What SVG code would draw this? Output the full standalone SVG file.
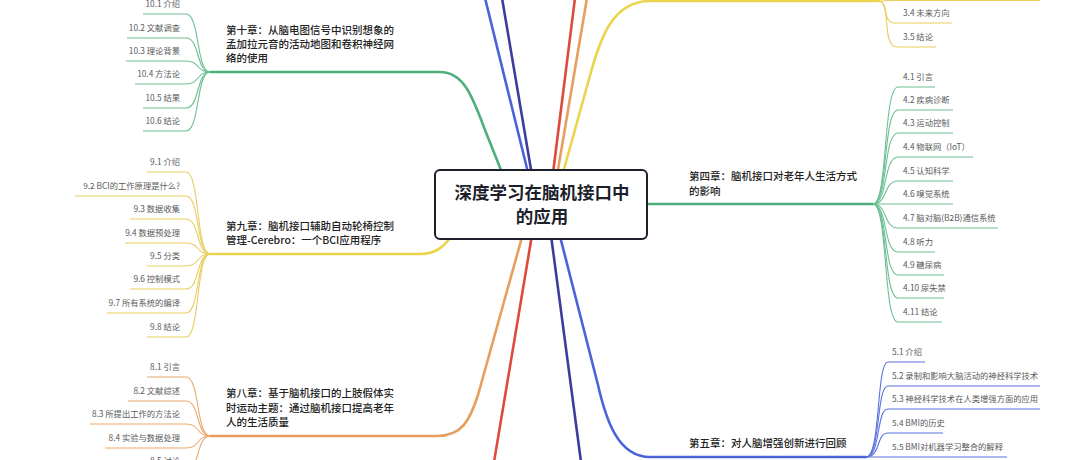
<svg xmlns="http://www.w3.org/2000/svg" width="1080" height="460" viewBox="0 0 1080 460">
<style>
text{font-family:"Noto Sans CJK SC","Noto Sans",sans-serif;}
.sub{font-size:8.3px;fill:#5a5a5a;}
.subl{font-size:8.3px;fill:#5a5a5a;text-anchor:end;}
.chap{font-size:10.5px;fill:#222;font-weight:500;}
.title{font-size:17.5px;fill:#1d1f2b;font-weight:700;text-anchor:middle;}
.main{fill:none;stroke-width:2.6;stroke-linecap:round;stroke-linejoin:round;}
.thin{fill:none;stroke-width:1.1;}
.g{stroke:#4daf7c;} .y{stroke:#ead44c;} .o{stroke:#e79e5e;} .r{stroke:#dc4b3c;} .i{stroke:#3f3d9c;} .b{stroke:#4a63d8;}
.gs{stroke:#6cbf93;} .ys{stroke:#e8cd5e;} .os{stroke:#eaa96e;} .bs{stroke:#5a72dc;}
</style>
<rect width="1080" height="460" fill="#fff"/>
<g id="connectors">
  <!-- main branches -->
  <path class="main b" d="M485,-2 L536,205"/>
  <path class="main i" d="M502,-2 L537,205"/>
  <path class="main r" d="M575,-2 L549,205"/>
  <path class="main o" d="M587,-2 L552,205"/>
  <path class="main y" d="M554,205 L591,72 C600,40 612,1 650,1 L878,1"/>
  <path class="main g" d="M600,204 L873,204"/>
  <path class="main g" d="M515,205 L487,135 C474,102 466,72 440,72 L210,72"/>
  <path class="main y" d="M480,205 L455,232 C445,245 438,254 420,254 L210,254"/>
  <path class="main o" d="M531,205 L478,395 C470,420 462,436 437,436 L210,436"/>
  <path class="main r" d="M537,205 L494,462"/>
  <path class="main i" d="M547,205 L581,462"/>
  <path class="main b" d="M552,205 L598,385 C606,420 618,457 650,457 L866,457"/>
  <!-- chapter 3 subs -->
  <path class="thin ys" d="M878,1 C886,1 884,0.5 893,0.5 L1040,0.5"/>
  <path class="thin ys" d="M878,1 C890,1 881,23 895,23 L952,23"/>
  <path class="thin ys" d="M878,1 C892,1 881,47 897,47 L936,47"/>
  <!-- chapter 4 subs -->
  <path class="thin gs" d="M873,204 C888,204 883,87 898,87 L935,87"/>
  <path class="thin gs" d="M873,204 C888,204 883,110 898,110 L953,110"/>
  <path class="thin gs" d="M873,204 C888,204 883,133 898,133 L953,133"/>
  <path class="thin gs" d="M873,204 C888,204 883,157 898,157 L973,157"/>
  <path class="thin gs" d="M873,204 C888,204 883,181 898,181 L953,181"/>
  <path class="thin gs" d="M873,204 C888,204 883,204 898,204 L953,204"/>
  <path class="thin gs" d="M873,204 C888,204 883,228 898,228 L998,228"/>
  <path class="thin gs" d="M873,204 C888,204 883,252 898,252 L935,252"/>
  <path class="thin gs" d="M873,204 C888,204 883,275 898,275 L944,275"/>
  <path class="thin gs" d="M873,204 C888,204 883,298 898,298 L944,298"/>
  <path class="thin gs" d="M873,204 C888,204 883,322 898,322 L942,322"/>
  <!-- chapter 5 subs -->
  <path class="thin bs" d="M866,457 C881,457 876,362 888,362 L925,362"/>
  <path class="thin bs" d="M866,457 C881,457 876,386 888,386 L1040,386"/>
  <path class="thin bs" d="M866,457 C881,457 876,409 888,409 L1040,409"/>
  <path class="thin bs" d="M866,457 C881,457 876,433 888,433 L943,433"/>
  <path class="thin bs" d="M866,457 L1007,457"/>
  <!-- chapter 10 subs -->
  <path class="thin gs" d="M210,72 C196,72 200,14 186,14 L143,14"/>
  <path class="thin gs" d="M210,72 C196,72 200,38 186,38 L127,38"/>
  <path class="thin gs" d="M210,72 C196,72 200,61 186,61 L126,61"/>
  <path class="thin gs" d="M210,72 C196,72 200,84 186,84 L135,84"/>
  <path class="thin gs" d="M210,72 C196,72 200,108 186,108 L143,108"/>
  <path class="thin gs" d="M210,72 C196,72 200,131 186,131 L143,131"/>
  <!-- chapter 9 subs -->
  <path class="thin ys" d="M210,254 C196,254 200,172 186,172 L147,172"/>
  <path class="thin ys" d="M210,254 C196,254 200,196 186,196 L75,196"/>
  <path class="thin ys" d="M210,254 C196,254 200,219 186,219 L130,219"/>
  <path class="thin ys" d="M210,254 C196,254 200,243 186,243 L125,243"/>
  <path class="thin ys" d="M210,254 C196,254 200,266 186,266 L147,266"/>
  <path class="thin ys" d="M210,254 C196,254 200,289 186,289 L130,289"/>
  <path class="thin ys" d="M210,254 C196,254 200,313 186,313 L107,313"/>
  <path class="thin ys" d="M210,254 C196,254 200,337 186,337 L147,337"/>
  <!-- chapter 8 subs -->
  <path class="thin os" d="M210,436 C196,436 200,377 186,377 L147,377"/>
  <path class="thin os" d="M210,436 C196,436 200,401 186,401 L128,401"/>
  <path class="thin os" d="M210,436 C196,436 200,424 186,424 L90,424"/>
  <path class="thin os" d="M210,436 C196,436 200,448 186,448 L105,448"/>
  <path class="thin os" d="M210,436 C196,436 200,471 186,471 L147,471"/>
</g>
<g id="center">
  <rect x="435" y="170" width="212" height="69" rx="5" fill="#fff" stroke="#1d1f2b" stroke-width="2"/>
  <text class="title" x="542" y="199">深度学习在脑机接口中</text>
  <text class="title" x="542" y="223">的应用</text>
</g>
<g id="ch3">
  <text class="sub" x="903" y="16">3.4 未来方向</text>
  <text class="sub" x="903" y="40">3.5 结论</text>
</g>
<g id="ch4">
  <text class="chap" x="689" y="180">第四章：脑机接口对老年人生活方式</text>
  <text class="chap" x="689" y="195">的影响</text>
  <text class="sub" x="903" y="80">4.1 引言</text>
  <text class="sub" x="903" y="103">4.2 疾病诊断</text>
  <text class="sub" x="903" y="126">4.3 运动控制</text>
  <text class="sub" x="903" y="150">4.4 物联网（IoT）</text>
  <text class="sub" x="903" y="174">4.5 认知科学</text>
  <text class="sub" x="903" y="197">4.6 嗅觉系统</text>
  <text class="sub" x="903" y="221">4.7 脑对脑(B2B)通信系统</text>
  <text class="sub" x="903" y="245">4.8 听力</text>
  <text class="sub" x="903" y="268">4.9 糖尿病</text>
  <text class="sub" x="903" y="291">4.10 尿失禁</text>
  <text class="sub" x="903" y="315">4.11 结论</text>
</g>
<g id="ch5">
  <text class="chap" x="689" y="447">第五章：对人脑增强创新进行回顾</text>
  <text class="sub" x="892" y="355">5.1 介绍</text>
  <text class="sub" x="892" y="379">5.2 录制和影响大脑活动的神经科学技术</text>
  <text class="sub" x="892" y="402">5.3 神经科学技术在人类增强方面的应用</text>
  <text class="sub" x="892" y="426">5.4 BMI的历史</text>
  <text class="sub" x="892" y="450">5.5 BMI对机器学习整合的解释</text>
</g>
<g id="ch10">
  <text class="chap" x="226" y="34">第十章：从脑电图信号中识别想象的</text>
  <text class="chap" x="226" y="48">孟加拉元音的活动地图和卷积神经网</text>
  <text class="chap" x="226" y="62">络的使用</text>
  <text class="subl" x="180" y="7">10.1 介绍</text>
  <text class="subl" x="180" y="31">10.2 文献调查</text>
  <text class="subl" x="180" y="54">10.3 理论背景</text>
  <text class="subl" x="180" y="77">10.4 方法论</text>
  <text class="subl" x="180" y="101">10.5 结果</text>
  <text class="subl" x="180" y="124">10.6 结论</text>
</g>
<g id="ch9">
  <text class="chap" x="226" y="230">第九章：脑机接口辅助自动轮椅控制</text>
  <text class="chap" x="226" y="244">管理-Cerebro：一个BCI应用程序</text>
  <text class="subl" x="180" y="165">9.1 介绍</text>
  <text class="subl" x="180" y="189">9.2 BCI的工作原理是什么?</text>
  <text class="subl" x="180" y="212">9.3 数据收集</text>
  <text class="subl" x="180" y="236">9.4 数据预处理</text>
  <text class="subl" x="180" y="259">9.5 分类</text>
  <text class="subl" x="180" y="282">9.6 控制模式</text>
  <text class="subl" x="180" y="306">9.7 所有系统的编译</text>
  <text class="subl" x="180" y="330">9.8 结论</text>
</g>
<g id="ch8">
  <text class="chap" x="226" y="397">第八章：基于脑机接口的上肢假体实</text>
  <text class="chap" x="226" y="412">时运动主题：通过脑机接口提高老年</text>
  <text class="chap" x="226" y="426">人的生活质量</text>
  <text class="subl" x="180" y="370">8.1 引言</text>
  <text class="subl" x="180" y="394">8.2 文献综述</text>
  <text class="subl" x="180" y="417">8.3 所提出工作的方法论</text>
  <text class="subl" x="180" y="441">8.4 实验与数据处理</text>
  <text class="subl" x="180" y="464">8.5 讨论</text>
</g>
</svg>
